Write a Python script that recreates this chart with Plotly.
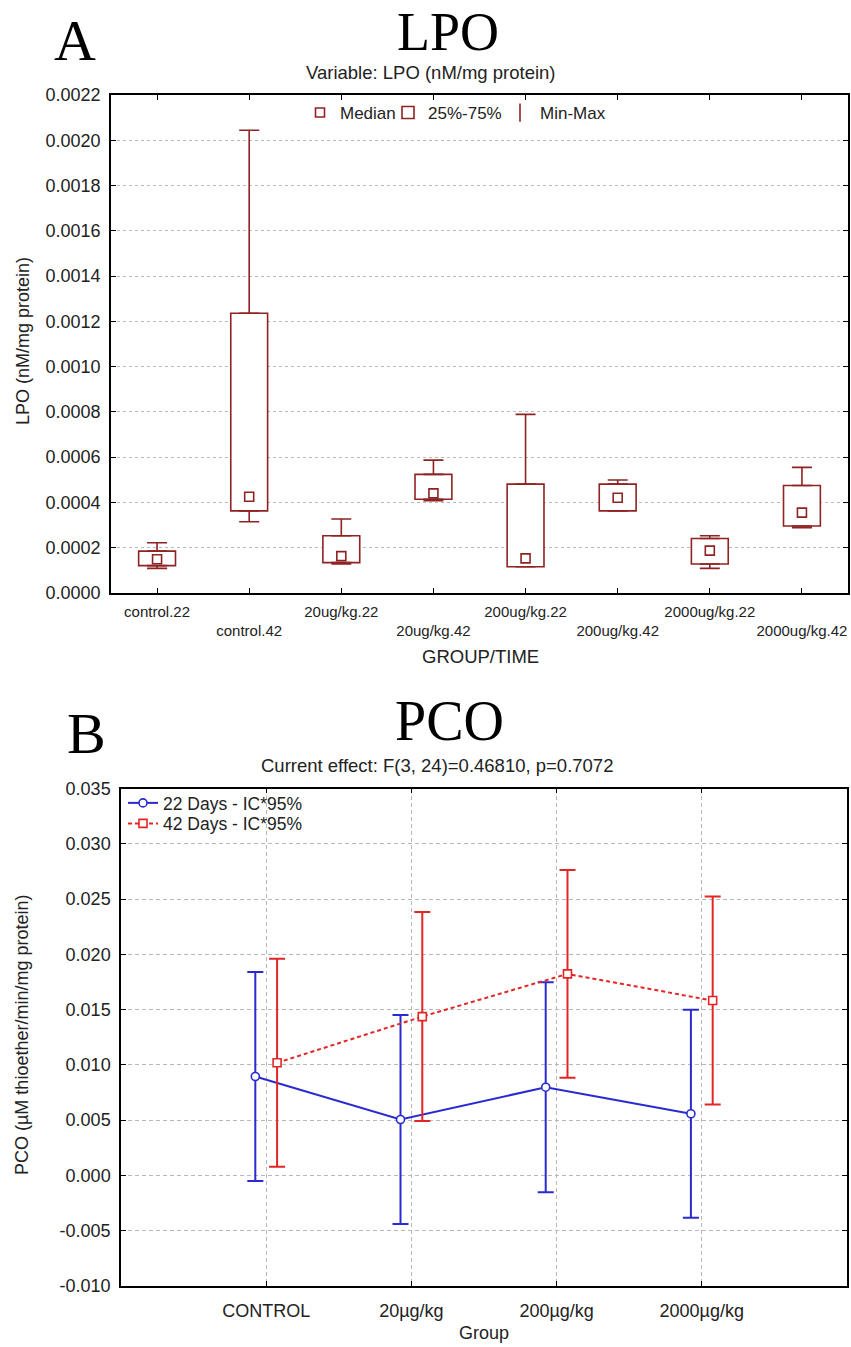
import plotly.graph_objects as go

W, H = 851, 1347

# ---------------- Panel A : LPO (box summary) ----------------
lpo_groups = ["control.22", "control.42", "20ug/kg.22", "20ug/kg.42",
              "200ug/kg.22", "200ug/kg.42", "2000ug/kg.22", "2000ug/kg.42"]
lpo_min = [0.000109, 0.000315, 0.000128, 0.000408, 0.000116, 0.000363, 0.000109, 0.000288]
lpo_q1 = [0.000121, 0.000363, 0.000134, 0.000414, 0.000116, 0.000363, 0.000128, 0.000296]
lpo_median = [0.000149, 0.000425, 0.000163, 0.000440, 0.000153, 0.000421, 0.000187, 0.000355]
lpo_q3 = [0.000185, 0.001236, 0.000253, 0.000524, 0.000481, 0.000481, 0.000241, 0.000475]
lpo_max = [0.000222, 0.002044, 0.000327, 0.000587, 0.000789, 0.000499, 0.000253, 0.000555]
lpo_yticks = [0.0000, 0.0002, 0.0004, 0.0006, 0.0008, 0.0010, 0.0012,
              0.0014, 0.0016, 0.0018, 0.0020, 0.0022]

# ---------------- Panel B : PCO (means with 95% CI) ----------------
pco_groups = ["CONTROL", "20µg/kg", "200µg/kg", "2000µg/kg"]
pco22_mean = [0.00895, 0.00506, 0.00798, 0.00558]
pco22_ci = [0.00945, 0.00945, 0.00950, 0.00940]
pco42_mean = [0.01019, 0.01437, 0.01823, 0.01582]
pco42_ci = [0.00940, 0.00945, 0.00940, 0.00940]
pco_yticks = [-0.010, -0.005, 0.000, 0.005, 0.010, 0.015, 0.020, 0.025, 0.030, 0.035]

DR = "#8e2323"
BLUE = "#2a2ad2"
RED = "#e22626"
SANS = "Liberation Sans, Arial, sans-serif"
SERIF = "Liberation Serif, Times New Roman, serif"
TXT = "#222222"


def px(x):
    return x / W


def py(y):
    return 1 - y / H


fig = go.Figure()

# Panel A traces
fig.add_trace(go.Scatter(
    x=lpo_groups, y=lpo_median, mode="markers", name="Median",
    marker=dict(symbol="square", size=9, color="white", line=dict(color=DR, width=1.6)),
    xaxis="x", yaxis="y", legend="legend", offsetgroup="a"))
fig.add_trace(go.Bar(
    x=lpo_groups, y=[b - a for a, b in zip(lpo_q1, lpo_q3)], base=lpo_q1, width=0.4,
    name="25%-75%", marker=dict(color="white", line=dict(color=DR, width=1.6)),
    xaxis="x", yaxis="y", legend="legend3"))
fig.add_trace(go.Scatter(
    x=[None], y=[None], mode="markers", name="Min-Max",
    marker=dict(symbol="line-ns", size=13, line=dict(color=DR, width=1.6)),
    xaxis="x", yaxis="y", legend="legend4", offsetgroup="a"))
fig.add_trace(go.Scatter(
    x=lpo_groups, y=lpo_q3, mode="markers", showlegend=False,
    marker=dict(size=1, color="rgba(0,0,0,0)"),
    error_y=dict(type="data", symmetric=False,
                 array=[b - a for a, b in zip(lpo_q3, lpo_max)],
                 arrayminus=[0] * len(lpo_q3), color=DR, thickness=1.6, width=10),
    xaxis="x", yaxis="y", offsetgroup="a"))
fig.add_trace(go.Scatter(
    x=lpo_groups, y=lpo_q1, mode="markers", showlegend=False,
    marker=dict(size=1, color="rgba(0,0,0,0)"),
    error_y=dict(type="data", symmetric=False,
                 array=[0] * len(lpo_q1),
                 arrayminus=[a - b for a, b in zip(lpo_q1, lpo_min)],
                 color=DR, thickness=1.6, width=10),
    xaxis="x", yaxis="y", offsetgroup="a"))

# Panel B traces
fig.add_trace(go.Scatter(
    x=pco_groups, y=pco22_mean, mode="lines+markers", name="22 Days - IC*95%",
    line=dict(color=BLUE, width=2),
    marker=dict(symbol="circle", size=8, color="white", line=dict(color=BLUE, width=1.6)),
    error_y=dict(type="data", array=pco22_ci, color=BLUE, thickness=2, width=8),
    xaxis="x2", yaxis="y2", legend="legend2", offsetgroup="d22"))
fig.add_trace(go.Scatter(
    x=pco_groups, y=pco42_mean, mode="lines+markers", name="42 Days - IC*95%",
    line=dict(color=RED, width=2, dash="4px,3px"),
    marker=dict(symbol="square", size=8, color="white", line=dict(color=RED, width=1.6)),
    error_y=dict(type="data", array=pco42_ci, color=RED, thickness=2, width=8),
    xaxis="x2", yaxis="y2", legend="legend5", offsetgroup="d42"))

axis_common = dict(showline=True, linecolor="black", linewidth=1.5, mirror="ticks",
                   ticks="inside", ticklen=5, tickcolor="black", zeroline=False,
                   automargin=False, tickangle=0,
                   tickfont=dict(family=SANS, size=18, color=TXT))

leg_common = dict(bgcolor="rgba(0,0,0,0)", traceorder="normal", itemwidth=30,
                  yanchor="middle", xanchor="left", tracegroupgap=0)
leg_font_a = dict(family=SANS, size=17, color=TXT)
leg_font_b = dict(family=SANS, size=17.5, color=TXT)

fig.update_layout(
    template="none",
    width=W, height=H, margin=dict(l=0, r=0, t=0, b=0, pad=0), autosize=False,
    paper_bgcolor="white", plot_bgcolor="white",
    font=dict(family=SANS, color=TXT),
    scattermode="group", scattergap=0.7,
    xaxis=dict(axis_common, domain=[px(111), px(848)], anchor="y", type="category",
               range=[-0.5, 7.5], tickvals=lpo_groups,
               ticktext=[g if i % 2 == 0 else "<br>" + g for i, g in enumerate(lpo_groups)],
               showgrid=False, ticklabelstandoff=4,
               tickfont=dict(family=SANS, size=15, color=TXT)),
    yaxis=dict(axis_common, domain=[py(593), py(95)], anchor="x", range=[0, 0.0022],
               tickvals=lpo_yticks, ticktext=[f"{v:.4f}" for v in lpo_yticks],
               ticklabelstandoff=5,
               showgrid=True, gridcolor="#b8b8b8", gridwidth=1, griddash="dot"),
    xaxis2=dict(axis_common, domain=[px(121), px(847)], anchor="y2", type="category",
                range=[-1, 4], tickvals=pco_groups, ticktext=pco_groups,
                ticklabelstandoff=8,
                showgrid=True, gridcolor="#b8b8b8", gridwidth=1, griddash="4px,3px"),
    yaxis2=dict(axis_common, domain=[py(1286), py(788.5)], anchor="x2", range=[-0.010, 0.035],
                tickvals=pco_yticks,
                ticktext=[f"{v:.3f}".replace("-0.000", "0.000") for v in pco_yticks],
                ticklabelstandoff=5,
                showgrid=True, gridcolor="#b8b8b8", gridwidth=1, griddash="4px,3px"),
    legend=dict(leg_common, x=px(300), y=py(113), font=leg_font_a),
    legend3=dict(leg_common, x=px(388), y=py(113), font=leg_font_a),
    legend4=dict(leg_common, x=px(500), y=py(113), font=leg_font_a),
    legend2=dict(leg_common, x=px(123), y=py(803), font=leg_font_b),
    legend5=dict(leg_common, x=px(123), y=py(823.5), font=leg_font_b),
    showlegend=True,
)

annotations = [
    dict(text="A", x=px(75), y=py(6), yanchor="top", font=dict(family=SERIF, size=58, color="black")),
    dict(text="LPO", x=px(448), y=1, yanchor="top", font=dict(family=SERIF, size=54, color="black")),
    dict(text="Variable: LPO (nM/mg protein)", x=px(431), y=py(72.5),
         font=dict(family=SANS, size=18.5, color=TXT)),
    dict(text="LPO (nM/mg protein)", x=px(23), y=py(341), textangle=-90,
         font=dict(family=SANS, size=18, color=TXT)),
    dict(text="GROUP/TIME", x=px(480), y=py(656), font=dict(family=SANS, size=18.5, color=TXT)),
    dict(text="B", x=px(86), y=py(699), yanchor="top", font=dict(family=SERIF, size=58, color="black")),
    dict(text="PCO", x=px(449), y=py(688), yanchor="top", font=dict(family=SERIF, size=56, color="black")),
    dict(text="Current effect: F(3, 24)=0.46810, p=0.7072", x=px(437), y=py(765),
         font=dict(family=SANS, size=18.5, color=TXT)),
    dict(text="PCO (µM thioether/min/mg protein)", x=px(22), y=py(1035), textangle=-90,
         font=dict(family=SANS, size=18, color=TXT)),
    dict(text="Group", x=px(484), y=py(1333), font=dict(family=SANS, size=18, color=TXT)),
]
for a in annotations:
    a.update(xref="paper", yref="paper", showarrow=False, xanchor="center")
    a.setdefault("yanchor", "middle")
fig.update_layout(annotations=annotations)

fig.write_html("out.html")
